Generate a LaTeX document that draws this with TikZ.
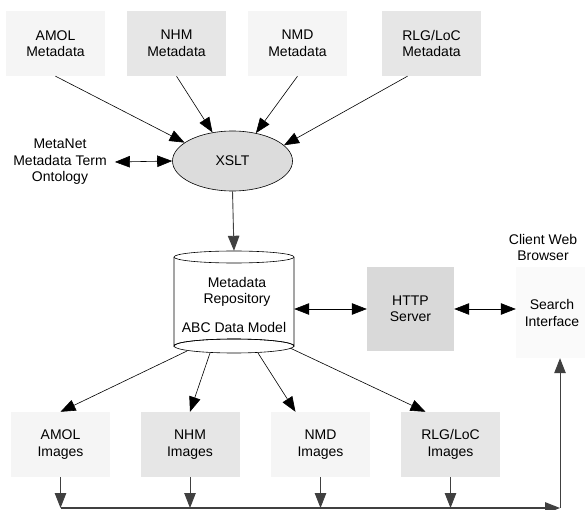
\documentclass[tikz,border=0pt]{standalone}
\usepackage{fontspec}
\setmainfont{Liberation Sans}
\usetikzlibrary{arrows.meta,shapes.geometric,calc}
\definecolor{boxlight}{HTML}{F5F5F5}
\definecolor{boxdark}{HTML}{E6E6E6}
\definecolor{httpgray}{HTML}{D9D9D9}
\definecolor{searchcol}{HTML}{FAFAFA}
\definecolor{ellcol}{HTML}{DCDCDC}
\tikzset{
  lbl/.style={font=\fontsize{14}{16.5}\selectfont, align=center, inner sep=0pt},
  srcbox/.style={lbl, rectangle, minimum width=99pt, minimum height=65pt},
  lightbox/.style={srcbox, fill=boxlight},
  darkbox/.style={srcbox, fill=boxdark},
  tip/.style={-{Triangle[length=15pt,width=11.5pt]}},
  dtip/.style={{Triangle[length=15pt,width=11.5pt]}-{Triangle[length=15pt,width=11.5pt]}},
  thinline/.style={line width=0.6pt, draw=black},
  vline/.style={line width=0.9pt, draw=black!75},
}
\begin{document}
\begin{tikzpicture}[x=1pt,y=-1pt]
\useasboundingbox (0,0) rectangle (585,510);
\fill[white] (0,0) rectangle (585,510);

% top source boxes
\node[lightbox] (amolmd) at (55.5,43.5) {AMOL\\Metadata};
\node[darkbox]  (nhmmd)  at (176.5,43.5) {NHM\\Metadata};
\node[lightbox] (nmdmd)  at (297.5,43.5) {NMD\\Metadata};
\node[darkbox]  (rlgmd)  at (431.5,43.5) {RLG/LoC\\Metadata};

% XSLT ellipse
\node[lbl, ellipse, draw=black, line width=0.6pt, fill=ellcol, minimum width=120pt, minimum height=60pt] (xslt) at (232.5,161) {XSLT};

% ontology label
\node[lbl, inner xsep=8pt] (onto) at (60,162) {MetaNet\\Metadata Term\\Ontology};

% repository cylinder
\node[minimum width=120pt, minimum height=102pt, inner sep=0pt] (repo) at (234,302) {};
\draw[thinline, fill=white] (174,257) -- (174,346) arc[start angle=180, end angle=360, x radius=60, y radius=7] -- (294,257);
\draw[thinline, fill=white] (234,257) ellipse[x radius=60, y radius=6];
\draw[thinline] (234,346) ellipse[x radius=60, y radius=7];
\node[lbl] (repotxt) at (237,292) {Metadata\\Repository};
\node[lbl] (abc) at (234,327) {ABC Data Model};

% HTTP server
\node[lbl, rectangle, fill=httpgray, minimum width=87pt, minimum height=84pt] (http) at (410.5,309) {HTTP\\Server};

% Search interface
\node[lbl, rectangle, fill=searchcol, minimum width=72pt, minimum height=91pt] (search) at (552,312.5) {};
\node[lbl] (searchtxt) at (552,313) {Search\\Interface};
\node[lbl] (client) at (543,247.5) {Client Web\\Browser};

% image boxes
\node[lightbox] (amolimg) at (60.5,444.5) {AMOL\\Images};
\node[darkbox]  (nhmimg)  at (190,444.5) {NHM\\Images};
\node[lightbox] (nmdimg)  at (320.5,444.5) {NMD\\Images};
\node[darkbox]  (rlgimg)  at (450.5,444.5) {RLG/LoC\\Images};

% start points on cylinder bottom
\coordinate (r1) at (187,351);
\coordinate (r2) at (210,353);
\coordinate (r3) at (258,353);
\coordinate (r4) at (290,348);
\coordinate (bus) at (560,508);

% connectors: sources to XSLT
\draw[thinline, tip] (amolmd.south) -- (xslt.159);
\draw[thinline, tip] (nhmmd.south) -- (xslt.125);
\draw[thinline, tip] (nmdmd.south) -- (xslt.50);
\draw[thinline, tip] ([xshift=-24pt]rlgmd.south) -- (xslt.17);
\draw[thinline, dtip] (onto.east) -- (xslt.west);

% XSLT to repo
\draw[vline, tip] (xslt.south) -- (repo.north);

% repo <-> http <-> search
\draw[thinline, dtip] (http.west -| repo.east) -- (http.west);
\draw[thinline, dtip] (http.east) -- (http.east -| search.west);

% repo to images
\draw[thinline, tip] (r1) -- (amolimg.north);
\draw[thinline, tip] (r2) -- (nhmimg.north);
\draw[thinline, tip] (r3) -- ([xshift=-25pt]nmdimg.north);
\draw[thinline, tip] (r4) -- ([xshift=-25pt]rlgimg.north);

% images to bus
\draw[vline, tip] (amolimg.south) -- (amolimg.south |- bus);
\draw[vline, tip] (nhmimg.south) -- (nhmimg.south |- bus);
\draw[vline, tip] (nmdimg.south) -- (nmdimg.south |- bus);
\draw[vline, tip] (rlgimg.south) -- (rlgimg.south |- bus);
\draw[vline, line width=1.1pt, tip] (amolimg.south |- bus) -- (bus);
\draw[vline, tip] (bus) -- (bus |- search.south);
\end{tikzpicture}
\end{document}
